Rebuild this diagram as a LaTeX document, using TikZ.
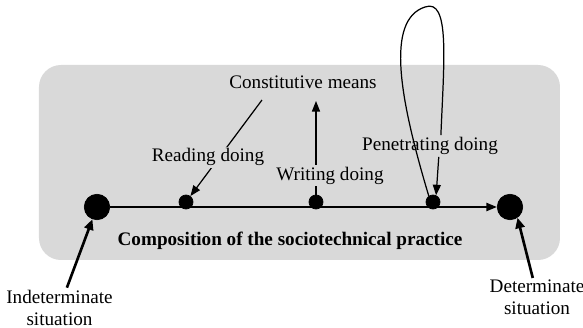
\documentclass[tikz,border=0pt]{standalone}
\usepackage{fontspec}
\setmainfont{Liberation Serif}
\usetikzlibrary{calc,positioning,arrows.meta}

\definecolor{boxgray}{HTML}{D9D9D9}
\newcommand{\figfont}{\fontsize{10.9pt}{12.5pt}\selectfont}

\tikzset{
  bigdot/.style={draw, circle, fill=black, inner sep=0pt, minimum size=14.5pt},
  smalldot/.style={draw, circle, fill=black, inner sep=0pt, minimum size=8pt},
  lbl/.style={fill=boxgray, inner sep=1pt, font=\figfont},
  outlbl/.style={inner sep=1pt, align=center, font=\figfont},
  tip/.style={-{Triangle[length=6pt,width=4.6pt]}},
  bigtip/.style={-{Triangle[length=6pt,width=5.2pt]}, line width=1.5pt}
}

\begin{document}
\begin{tikzpicture}[x=0.02cm, y=-0.02cm]
\useasboundingbox (0,0) rectangle (583,328);

% Grey box of the practice
\fill[boxgray, rounded corners=12.5pt] (39,65) rectangle (560,260);

% Situations and doings on the line
\node[bigdot] (ind) at (97,207) {};
\node[bigdot] (det) at (510,207) {};
\node[smalldot] (read) at (186,202) {};
\node[smalldot] (write) at (316,202) {};
\node[smalldot] (pen) at (433,202) {};

\draw (ind) -- (det) [line width=1.1pt, tip];

% Constitutive means, linked to reading and writing
\node[lbl] (cm) at (303,82.5) {Constitutive means};
\coordinate (cmfoot) at (262,100);
\coordinate (cmtip) at (316,101);

\draw (cmfoot) -- (read) [line width=0.7pt, tip];
\draw (write) -- (cmtip) [line width=0.7pt, tip];

\node[lbl] (readlbl) at (208,157.2) {Reading doing};
\node[lbl] (writelbl) at (330,175.5) {Writing doing};
\node[lbl] (penlbl) at (430,146) {Penetrating doing};

% Loop of the penetrating doing
\draw[line width=0.7pt] (pen.125) .. controls (400,100) and (385,20) .. (425,7)
  .. controls (450,-2) and (444,60) .. ([xshift=6.2pt]penlbl.north);
\draw ([xshift=5pt]penlbl.south) -- (pen.65) [line width=0.7pt, tip];

\node[font=\figfont\bfseries] (comp) at (290,240.5) {Composition of the sociotechnical practice};

% Situations outside the box
\node[outlbl] (indlbl) at (59.5,307.5) {Indeterminate\\situation};
\node[outlbl] (detlbl) at (537,297.5) {Determinate\\situation};

\draw (indlbl) -- (ind) [bigtip];
\draw ([xshift=-2.4pt]detlbl.north) -- (det.-55) [bigtip];

\end{tikzpicture}
\end{document}
